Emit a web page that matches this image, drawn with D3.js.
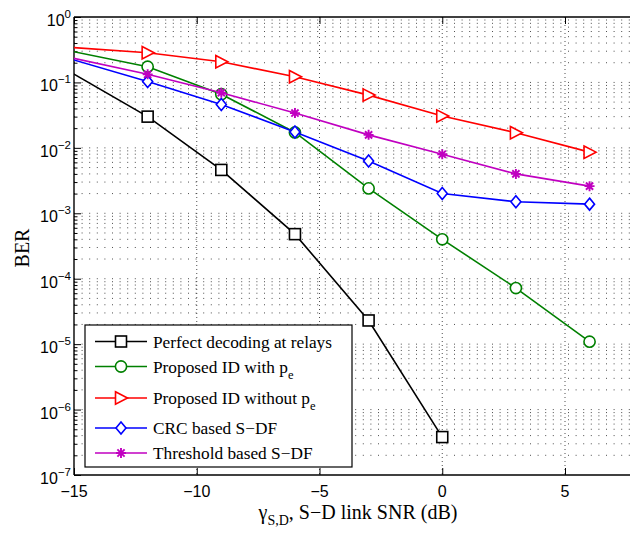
<!DOCTYPE html>
<html>
<head>
<meta charset="utf-8">
<script src="https://cdn.jsdelivr.net/npm/d3@7"></script>
<style>
  body { margin: 0; background: #fff; }
  svg { display: block; }
</style>
</head>
<body>
<svg id="chart" width="630" height="536"></svg>
<script>
// SNR points (dB); the first point lies left of the visible range
const snrAll = [-18, -12, -9, -6, -3, 0, 3, 6];
const snrPerfect = [-18, -12, -9, -6, -3, 0];

// BER per scheme
const berPerfect   = [0.6, 0.030, 0.0046, 4.8e-4, 2.3e-5, 3.8e-7];
const berWithPe    = [0.50, 0.174, 0.066, 0.0172, 0.0024, 4.0e-4, 7.2e-5, 1.09e-5];
const berWithoutPe = [0.407, 0.284, 0.207, 0.122, 0.064, 0.0306, 0.017, 0.0086];
const berCRC       = [0.47, 0.103, 0.046, 0.0175, 0.0063, 0.0020, 0.0015, 0.00138];
const berThreshold = [0.408, 0.133, 0.0697, 0.034, 0.0158, 0.0080, 0.0040, 0.0026];

const xTicks = [-15, -10, -5, 0, 5];
const yExponents = [0, -1, -2, -3, -4, -5, -6, -7];

const series = [
  { name: "Perfect decoding at relays", sub: null, x: snrPerfect, y: berPerfect, color: "#000000", marker: "square" },
  { name: "Proposed ID with p", sub: "e", x: snrAll, y: berWithPe, color: "#008000", marker: "circle" },
  { name: "Proposed ID without p", sub: "e", x: snrAll, y: berWithoutPe, color: "#ff0000", marker: "triangle" },
  { name: "CRC based S\u2212DF", sub: null, x: snrAll, y: berCRC, color: "#0000ff", marker: "diamond" },
  { name: "Threshold based S\u2212DF", sub: null, x: snrAll, y: berThreshold, color: "#c000c0", marker: "star" }
];

(function () {
const plotLeft = 74, plotTop = 17, plotBottom = 475;
const pxPerDb = 24.55;
const x = d3.scaleLinear().domain([-15, 8]).range([plotLeft, plotLeft + 23 * pxPerDb]);
const y = d3.scaleLog().domain([1e-7, 1]).range([plotBottom, plotTop]);
const plotRight = x(8);

const svg = d3.select("#chart");

svg.append("defs").append("clipPath").attr("id", "plotClip")
  .append("rect").attr("x", plotLeft).attr("y", plotTop)
  .attr("width", plotRight - plotLeft).attr("height", plotBottom - plotTop);

// grid: horizontal dotted lines at every decade and minor decade step
const yGridVals = [];
for (let e = -7; e < 0; e++) {
  for (let k = 1; k <= 9; k++) yGridVals.push(k * Math.pow(10, e));
}
yGridVals.push(1);

const grid = svg.append("g");
grid.selectAll("line.hg").data(yGridVals.filter(v => v > 1e-7 && v < 1)).join("line")
  .attr("x1", plotLeft).attr("x2", plotRight)
  .attr("y1", d => y(d)).attr("y2", d => y(d))
  .attr("stroke", "#222").attr("stroke-width", 0.8)
  .attr("stroke-dasharray", "1,6.6");

grid.selectAll("line.vg").data(xTicks.filter(t => t > -15)).join("line")
  .attr("x1", d => x(d)).attr("x2", d => x(d))
  .attr("y1", plotTop).attr("y2", plotBottom)
  .attr("stroke", "#222").attr("stroke-width", 0.8)
  .attr("stroke-dasharray", "1,3");

// axes frame and ticks
const axisG = svg.append("g");
axisG.append("g").attr("transform", `translate(0,${plotBottom})`)
  .call(d3.axisBottom(x).tickValues(xTicks).tickSize(-7).tickFormat(""));
axisG.append("g").attr("transform", `translate(0,${plotTop})`)
  .call(d3.axisTop(x).tickValues(xTicks).tickSize(-7).tickFormat(""));

const majorY = yExponents.map(e => Math.pow(10, e));
const minorY = yGridVals.filter(v => !majorY.some(m => Math.abs(Math.log10(v) - Math.log10(m)) < 1e-9));
axisG.append("g").attr("transform", `translate(${plotLeft},0)`)
  .call(d3.axisLeft(y).tickValues(majorY).tickSize(-7).tickFormat(""));
axisG.append("g").attr("transform", `translate(${plotLeft},0)`)
  .call(d3.axisLeft(y).tickValues(minorY).tickSize(-3.5).tickFormat(""));

axisG.selectAll(".domain").remove();
axisG.selectAll(".tick line").attr("stroke", "#000").attr("stroke-width", 1);

axisG.append("line").attr("x1", plotLeft).attr("x2", plotRight).attr("y1", plotBottom).attr("y2", plotBottom)
  .attr("stroke", "#000").attr("stroke-width", 1.4);
axisG.append("line").attr("x1", plotLeft).attr("x2", plotRight).attr("y1", plotTop).attr("y2", plotTop)
  .attr("stroke", "#000").attr("stroke-width", 1.4);
axisG.append("line").attr("x1", plotLeft).attr("x2", plotLeft).attr("y1", plotTop).attr("y2", plotBottom)
  .attr("stroke", "#000").attr("stroke-width", 1.4);

// tick labels
const tickFont = "'Liberation Sans', Arial, Helvetica, sans-serif";
svg.append("g").selectAll("text").data(xTicks).join("text")
  .attr("x", d => x(d)).attr("y", plotBottom + 22)
  .attr("text-anchor", "middle")
  .attr("font-family", tickFont).attr("font-size", 16)
  .text(d => d < 0 ? "\u2212" + Math.abs(d) : String(d));

const yl = svg.append("g").selectAll("text").data(yExponents).join("text")
  .attr("x", plotLeft - 3).attr("y", d => y(Math.pow(10, d)) + 9)
  .attr("text-anchor", "end")
  .attr("font-family", tickFont).attr("font-size", 16);
yl.append("tspan").text("10");
yl.append("tspan").attr("dy", -8).attr("font-size", 11.5)
  .text(d => d < 0 ? "\u2212" + Math.abs(d) : String(d));

// axis titles
const serif = "'Liberation Serif', 'Times New Roman', Times, serif";
const xl = svg.append("text").attr("x", 358).attr("y", 519)
  .attr("text-anchor", "middle").attr("font-family", serif).attr("font-size", 20);
xl.append("tspan").text("\u03b3");
xl.append("tspan").attr("dy", 6).attr("font-size", 14).text("S,D");
xl.append("tspan").attr("dy", -6).text(", S\u2212D link SNR (dB)");

svg.append("text").attr("transform", `translate(29,248) rotate(-90)`)
  .attr("text-anchor", "middle").attr("font-family", serif).attr("font-size", 20)
  .text("BER");

// marker drawing
function drawMarker(g, type, color) {
  if (type === "square") {
    g.append("rect").attr("x", -5.5).attr("y", -5.5).attr("width", 11).attr("height", 11)
      .attr("fill", "#fff").attr("stroke", color).attr("stroke-width", 1.6);
  } else if (type === "circle") {
    g.append("circle").attr("r", 5.6)
      .attr("fill", "#fff").attr("stroke", color).attr("stroke-width", 1.6);
  } else if (type === "triangle") {
    g.append("path").attr("d", "M-5.5,-6.2L6.5,0L-5.5,6.2Z")
      .attr("fill", "#fff").attr("stroke", color).attr("stroke-width", 1.6);
  } else if (type === "diamond") {
    g.append("path").attr("d", "M0,-6L5,0L0,6L-5,0Z")
      .attr("fill", "#fff").attr("stroke", color).attr("stroke-width", 1.6);
  } else if (type === "star") {
    g.append("path").attr("d", "M-5,0H5M0,-5V5M-3.6,-3.6L3.6,3.6M-3.6,3.6L3.6,-3.6")
      .attr("fill", "none").attr("stroke", color).attr("stroke-width", 1.9);
  }
}

// series lines and markers
const plot = svg.append("g").attr("clip-path", "url(#plotClip)");
const line = d3.line().x(d => x(d[0])).y(d => y(d[1]));
series.forEach(s => {
  const pts = s.x.map((v, i) => [v, s.y[i]]);
  plot.append("path").datum(pts).attr("d", line)
    .attr("fill", "none").attr("stroke", s.color).attr("stroke-width", 1.6);
  pts.forEach(p => {
    const g = plot.append("g").attr("transform", `translate(${x(p[0])},${y(p[1])})`);
    drawMarker(g, s.marker, s.color);
  });
});

// legend
const lg = svg.append("g");
lg.append("rect").attr("x", 85).attr("y", 325).attr("width", 267).attr("height", 142)
  .attr("fill", "#fff").attr("stroke", "#000").attr("stroke-width", 1.2);
const rowY = [341.5, 366.5, 398, 428, 453];
series.forEach((s, i) => {
  const g = lg.append("g").attr("transform", `translate(0,${rowY[i]})`);
  g.append("line").attr("x1", 95).attr("x2", 147).attr("y1", 0).attr("y2", 0)
    .attr("stroke", s.color).attr("stroke-width", 1.6);
  const m = g.append("g").attr("transform", "translate(121,0)");
  drawMarker(m, s.marker, s.color);
  const t = g.append("text").attr("x", 153).attr("y", 6)
    .attr("font-family", serif).attr("font-size", 17.3).attr("fill", "#000");
  t.append("tspan").text(s.name);
  if (s.sub) t.append("tspan").attr("dy", 6).attr("font-size", 12.5).text(s.sub);
});
})();
</script>
</body>
</html>
